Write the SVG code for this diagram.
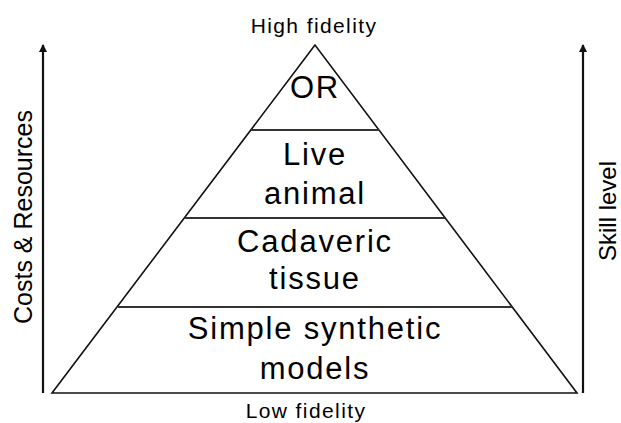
<svg xmlns="http://www.w3.org/2000/svg" width="621" height="423" viewBox="0 0 621 423">
<defs>
<style>
.t{font-family:"Liberation Sans",Arial,sans-serif;fill:#000;text-anchor:middle}
.lvl{font-size:31px;letter-spacing:1.8px}
.cap{font-size:21px;letter-spacing:1.4px}
.side{font-size:25px}
.edge{stroke:#111;stroke-width:1.6;fill:none}
.div{stroke:#333;stroke-width:2.2;fill:none}
.ax{stroke:#111;stroke-width:2.2;fill:none}
</style>
<marker id="ah" markerWidth="8" markerHeight="8" refX="7" refY="4" orient="auto" markerUnits="userSpaceOnUse">
<path d="M0,0 L8,4 L0,8 Z" fill="#111"/>
</marker>
</defs>
<rect width="621" height="423" fill="#fff"/>
<g id="connectors">
<line class="ax" x1="43" y1="393" x2="43" y2="45" marker-end="url(#ah)"/>
<line class="ax" x1="583" y1="393" x2="583" y2="45" marker-end="url(#ah)"/>
</g>
<g id="pyramid">
<polygon class="edge" points="315,45 52,393 577,393"/>
</g>
<g id="level-or">
<text class="t lvl" x="315" y="98">OR</text>
</g>
<g id="level-live-animal">
<line class="div" x1="251" y1="130" x2="379" y2="130"/>
<text class="t lvl" x="315" y="165">Live</text>
<text class="t lvl" x="315" y="204">animal</text>
</g>
<g id="level-cadaveric">
<line class="div" x1="185" y1="218" x2="445" y2="218"/>
<text class="t lvl" x="315" y="252">Cadaveric</text>
<text class="t lvl" x="315" y="289">tissue</text>
</g>
<g id="level-synthetic">
<line class="div" x1="118" y1="307" x2="512" y2="307"/>
<text class="t lvl" x="315" y="339">Simple synthetic</text>
<text class="t lvl" x="315" y="379">models</text>
</g>
<g id="label-high">
<text class="t cap" x="314" y="33">High fidelity</text>
</g>
<g id="label-low">
<text class="t cap" x="306" y="418">Low fidelity</text>
</g>
<g id="label-costs">
<text class="t side" transform="translate(32,217) rotate(-90)">Costs &amp; Resources</text>
</g>
<g id="label-skill">
<text class="t side" style="font-size:24px" transform="translate(616,211) rotate(-90)">Skill level</text>
</g>
</svg>
